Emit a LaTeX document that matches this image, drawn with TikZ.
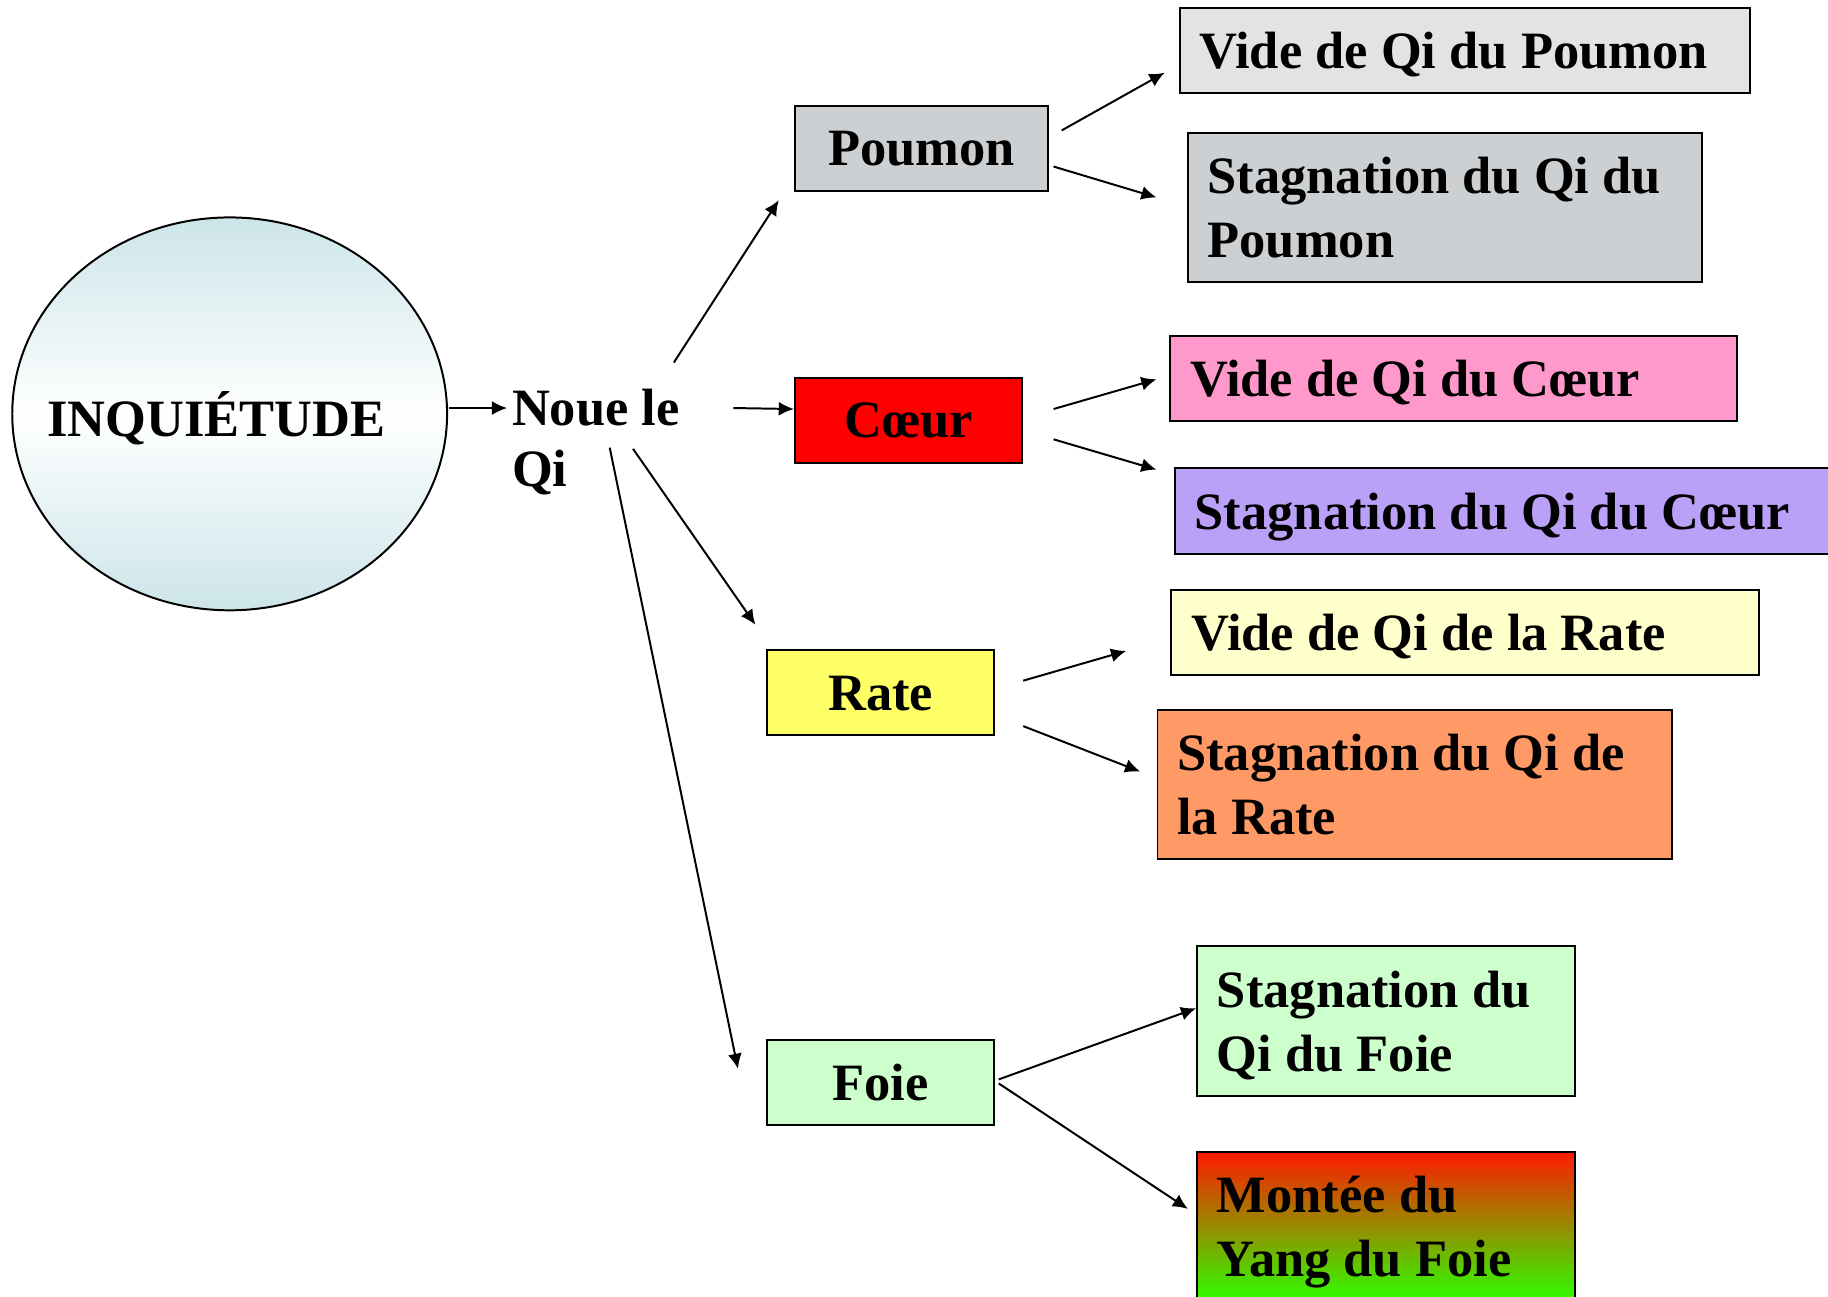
\documentclass[tikz,border=0pt]{standalone}
\usepackage{fontspec}
\setmainfont{Liberation Serif}
\usetikzlibrary{shapes.geometric,arrows.meta}

\definecolor{inqblue}{RGB}{204,229,233}
\definecolor{poumongray}{RGB}{205,208,210}
\definecolor{videgray}{RGB}{227,227,229}
\definecolor{coeurred}{RGB}{255,0,0}
\definecolor{videpink}{RGB}{255,153,204}
\definecolor{staglilac}{RGB}{187,160,248}
\definecolor{rateyellow}{RGB}{255,255,102}
\definecolor{videcream}{RGB}{255,255,204}
\definecolor{stagorange}{RGB}{255,153,102}
\definecolor{foiegreen}{RGB}{204,255,204}
\definecolor{monteetop}{RGB}{255,25,0}
\definecolor{monteemid}{RGB}{235,170,0}
\definecolor{monteebot}{RGB}{45,255,0}

\begin{document}
\begin{tikzpicture}[x=1pt,y=-1pt]
        \tikzstyle{every node}=[font=\fontsize{45}{55}\selectfont\bfseries]
        \tikzstyle{organ}=[draw, line width=1.7pt, anchor=north west, minimum height=73pt, text depth=0pt]
        \tikzstyle{box}=[draw, line width=1.7pt, anchor=north west, inner xsep=17pt, inner ysep=0pt, align=flush left, minimum height=73pt, text depth=0pt]
        \tikzstyle{tallbox}=[box, minimum height=128pt, text depth=55pt]
        \tikzstyle{arr}=[line width=1.7pt, -{Latex[length=13pt,width=12pt]}]
        \useasboundingbox (0,0) rectangle (1568,1112.5);

        \node[ellipse, draw, line width=1.7pt, inner sep=0pt, minimum width=373pt, minimum height=337pt, top color=inqblue, bottom color=inqblue, middle color=white, text depth=0pt] (inq) at (197,355) {\makebox[0pt]{INQUIÉTUDE\hspace{23pt}}};
        \node[anchor=north west, inner sep=0pt, align=left, font=\fontsize{45}{52.5}\selectfont\bfseries] (noue) at (439,333.5) {Noue le\\Qi};

        \node[organ, fill=poumongray, minimum width=217pt] (poumon) at (681,90) {Poumon};
        \node[organ, fill=coeurred, minimum width=195pt] (coeur) at (681,323) {Cœur};
        \node[organ, fill=rateyellow, minimum width=195pt] (rate) at (657,557) {Rate};
        \node[organ, fill=foiegreen, minimum width=195pt] (foie) at (657,891) {Foie};

        \node[box, fill=videgray, text width=455pt] (videpoumon) at (1011,6) {Vide de Qi du Poumon};
        \node[tallbox, fill=poumongray, text width=407pt] (stagpoumon) at (1018,113) {Stagnation du Qi du\\Poumon};
        \node[box, fill=videpink, text width=452pt] (videcoeur) at (1003,287) {Vide de Qi du Cœur};
        \node[box, fill=staglilac, text width=566pt] (stagcoeur) at (1007,401) {Stagnation du Qi du Cœur};
        \node[box, fill=videcream, text width=470pt] (viderate) at (1004,505) {Vide de Qi de la Rate};
        \node[tallbox, fill=stagorange, text width=407pt] (stagrate) at (992,608) {Stagnation du Qi de\\la Rate};
        \node[tallbox, fill=foiegreen, text width=290pt] (stagfoie) at (1026,811) {Stagnation du\\Qi du Foie};
        \node[tallbox, top color=monteetop, middle color=monteemid, bottom color=monteebot, text width=290pt] (monteefoie) at (1026,987) {Montée du\\Yang du Foie};

        \draw[arr] ([shift={(0.5,-5)}]inq.east) -- ([shift={(-4,16.5)}]noue.north west);
        \draw[arr] ([shift={(139,-22.5)}]noue.north west) -- ([shift={(-13,7)}]poumon.south west);
        \draw[arr] ([shift={(190,16.5)}]noue.north west) -- ([shift={(0,-9.5)}]coeur.west);
        \draw[arr] ([shift={(104,51.5)}]noue.north west) -- ([shift={(-9,-21)}]rate.north west);
        \draw[arr] ([shift={(84,50.5)}]noue.north west) -- ([shift={(-24,-11.5)}]foie.west);

        \draw[arr] ([shift={(11,-15.5)}]poumon.east) -- ([shift={(-12,19)}]videpoumon.west);
        \draw[arr] ([shift={(4,15.5)}]poumon.east) -- ([shift={(-26,-8.5)}]stagpoumon.west);
        \draw[arr] ([shift={(26,-9.5)}]coeur.east) -- ([shift={(-11,1)}]videcoeur.west);
        \draw[arr] ([shift={(26,16.5)}]coeur.east) -- ([shift={(-15,-35.5)}]stagcoeur.west);
        \draw[arr] ([shift={(24,-10.5)}]rate.east) -- ([shift={(-38,16)}]viderate.west);
        \draw[arr] ([shift={(24,28.5)}]rate.east) -- ([shift={(-14,-11)}]stagrate.west);
        \draw[arr] ([shift={(3,-2.5)}]foie.east) -- ([shift={(0,-11)}]stagfoie.west);
        \draw[arr] ([shift={(3,1)}]foie.east) -- ([shift={(-7,50)}]monteefoie.north west);
\end{tikzpicture}
\end{document}
